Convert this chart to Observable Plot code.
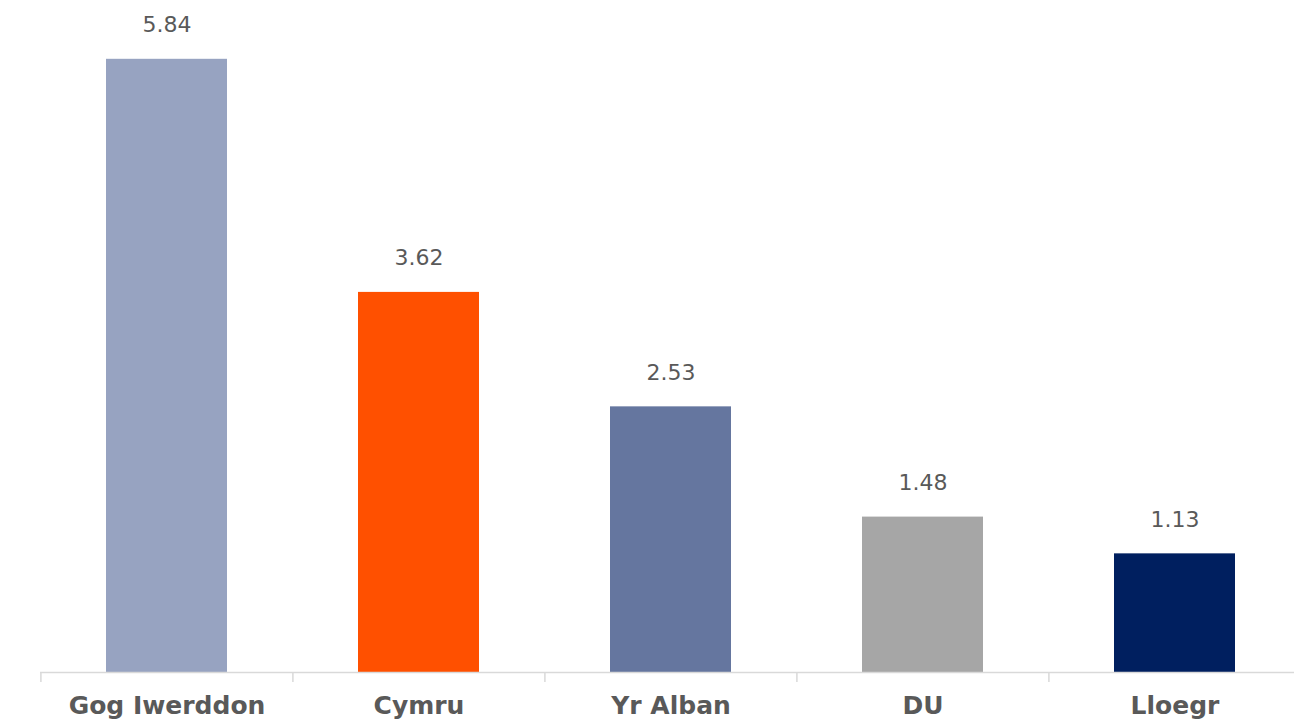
<!DOCTYPE html>
<html>
<head>
<meta charset="utf-8">
<script src="https://cdn.jsdelivr.net/npm/d3@7"></script>
<script src="https://cdn.jsdelivr.net/npm/@observablehq/plot@0.6"></script>
<style>
  html, body { margin: 0; padding: 0; background: #fff; }
</style>
</head>
<body>
<div id="chart"></div>
<script>
const categories = ["Gog Iwerddon", "Cymru", "Yr Alban", "DU", "Lloegr"];
const values = [5.84, 3.62, 2.53, 1.48, 1.13];
const colors = ["#97A3C1", "#FF5000", "#65769F", "#A6A6A6", "#001F5F"];

const data = categories.map((c, i) => ({category: c, value: values[i], color: colors[i]}));

const xRange = [40, 1301];
const step = (xRange[1] - xRange[0]) / categories.length;

const chart = Plot.plot({
  width: 1294,
  height: 724,
  marginTop: 0,
  marginBottom: 0,
  marginLeft: 40,
  marginRight: 0,
  style: {fontFamily: "'DejaVu Sans', sans-serif", background: "#fff"},
  x: {domain: categories, range: xRange, paddingInner: 0.52, paddingOuter: 0.26, axis: null},
  y: {domain: [0, 6], range: [672, 42], axis: null},
  marks: [
    Plot.barY(data, {x: "category", y: "value", fill: "color"}),
    Plot.ruleY([0], {stroke: "#D9D9D9", strokeWidth: 1.5}),
    Plot.ruleX(categories, {x: d => d, dx: -step / 2, y1: 0, y2: -0.095, stroke: "#D9D9D9", strokeWidth: 1.5}),
    Plot.text(data, {x: "category", y: "value", text: d => d.value.toFixed(2), dy: -34, lineAnchor: "middle", fontSize: 22, fill: "#595959"}),
    Plot.text(data, {x: "category", y: 0, text: "category", dy: 33, lineAnchor: "middle", fontSize: 25, fontWeight: "bold", fill: "#595959"})
  ]
});
document.getElementById("chart").appendChild(chart);
</script>
</body>
</html>
